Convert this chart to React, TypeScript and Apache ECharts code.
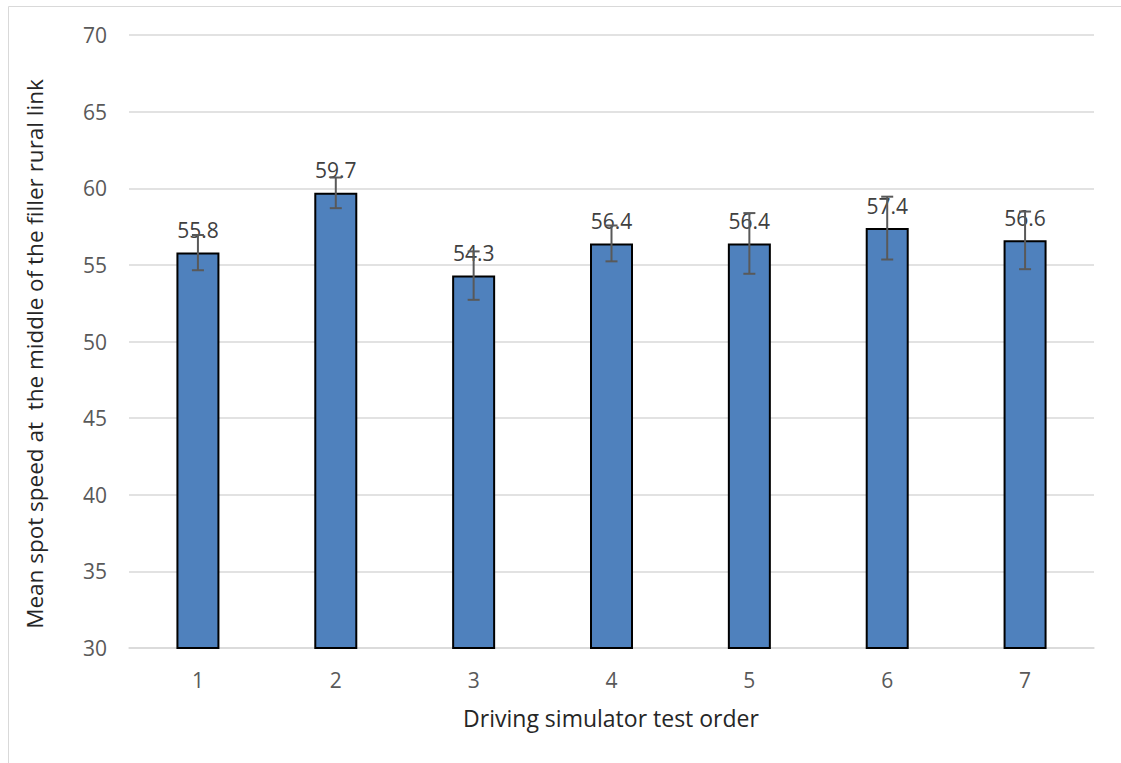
import React, { useEffect, useRef } from "react";
import * as echarts from "echarts";

const categories = ["1", "2", "3", "4", "5", "6", "7"];
const meanSpeeds = [55.8, 59.7, 54.3, 56.4, 56.4, 57.4, 56.6];
const errorHalf = [1.15, 1.0, 1.58, 1.17, 1.98, 2.05, 1.88];
const yTicks = { min: 30, max: 70, interval: 5 };
const xTitle = "Driving simulator test order";
const yTitle = "Mean spot speed at  the middle of the filler rural link";

const FONT = "'Open Sans', 'Noto Sans', sans-serif";

export default function App() {
  const ref = useRef<HTMLDivElement>(null);
  useEffect(() => {
    document.body.style.margin = "0";
    const chart = echarts.init(ref.current!, null, { renderer: "svg" });
    const errData = meanSpeeds.map((v, i) => [i, v - errorHalf[i], v + errorHalf[i]]);
    chart.setOption({
      animation: false,
      backgroundColor: "#ffffff",
      grid: { left: 129, right: 27, top: 35, bottom: 115, containLabel: false },
      graphic: [
        {
          type: "rect",
          shape: { x: 8.5, y: 6.5, width: 1300, height: 1000 },
          style: { fill: "none", stroke: "#d9d9d9", lineWidth: 1 },
          silent: true,
          z: -10,
        },
        {
          type: "text",
          x: 34,
          y: 354,
          rotation: Math.PI / 2,
          style: {
            text: yTitle,
            font: `22.5px ${FONT}`,
            fill: "#262626",
            align: "center",
            verticalAlign: "middle",
          },
        },
        {
          type: "text",
          x: 611,
          y: 718,
          style: {
            text: xTitle,
            font: `23px ${FONT}`,
            fill: "#262626",
            align: "center",
            verticalAlign: "middle",
          },
        },
      ],
      xAxis: {
        type: "category",
        data: categories,
        axisLine: { show: true, lineStyle: { color: "#d9d9d9", width: 1.5 } },
        axisTick: { show: false },
        axisLabel: { color: "#595959", fontSize: 21, fontFamily: FONT, margin: 21 },
      },
      yAxis: {
        type: "value",
        min: yTicks.min,
        max: yTicks.max,
        interval: yTicks.interval,
        axisLine: { show: false },
        axisTick: { show: false },
        splitLine: { lineStyle: { color: "#d9d9d9", width: 1.5 } },
        axisLabel: { color: "#595959", fontSize: 21, fontFamily: FONT, margin: 22 },
      },
      series: [
        {
          type: "bar",
          data: meanSpeeds,
          barWidth: 43,
          itemStyle: { color: "#4f81bd", borderColor: "#000000", borderWidth: 2 },
          label: {
            show: true,
            position: "top",
            distance: 12,
            color: "#404040",
            fontSize: 21,
            fontFamily: FONT,
            formatter: (p: any) => p.value.toFixed(1),
          },
          z: 2,
        },
        {
          type: "custom",
          data: errData,
          z: 10,
          renderItem: (params: any, api: any) => {
            const x = api.value(0);
            const lo = api.coord([x, api.value(1)]);
            const hi = api.coord([x, api.value(2)]);
            const hw = 6;
            const style = { stroke: "#595959", lineWidth: 2 };
            return {
              type: "group",
              children: [
                { type: "line", shape: { x1: hi[0], y1: hi[1], x2: lo[0], y2: lo[1] }, style },
                { type: "line", shape: { x1: hi[0] - hw, y1: hi[1], x2: hi[0] + hw, y2: hi[1] }, style },
                { type: "line", shape: { x1: lo[0] - hw, y1: lo[1], x2: lo[0] + hw, y2: lo[1] }, style },
              ],
            };
          },
        },
      ],
    });
    return () => chart.dispose();
  }, []);
  return <div ref={ref} style={{ width: 1121, height: 763 }} />;
}
